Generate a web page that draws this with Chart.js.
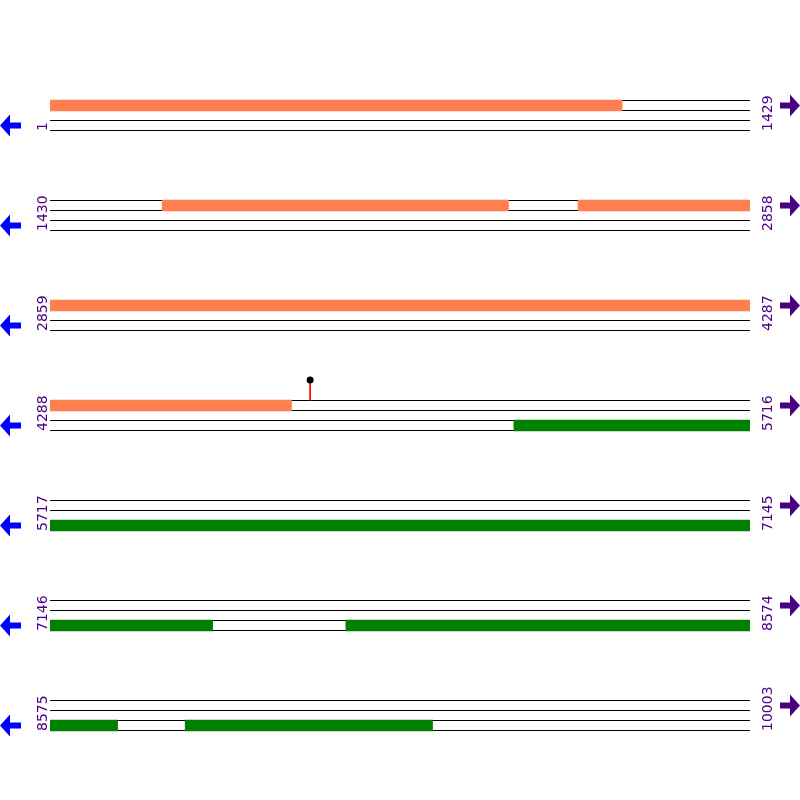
<!DOCTYPE html>
<html>
<head>
<meta charset="utf-8">
<script src="https://cdn.jsdelivr.net/npm/chart.js@4.4.0/dist/chart.umd.min.js"></script>
<style>
  html, body { margin: 0; padding: 0; background: #fff; }
  #wrap { width: 800px; height: 800px; }
</style>
</head>
<body>
<div id="wrap"><canvas id="mapChart" width="800" height="800"></canvas></div>
<script>
// sequence map data (bp)
const rowLength = 1429;
const rowStarts = [1, 1430, 2859, 4288, 5717, 7146, 8575];
const rowEnds = [1429, 2858, 4287, 5716, 7145, 8574, 10003];
const forwardFeatures = [[1, 1168], [1659, 2365], [2508, 4780]];
const reverseFeatures = [[5235, 7477], [7750, 8712], [8851, 9355]];
const mutationSites = [4819];

// layout of each row (canvas pixels, y scale is 0..800)
const rowTop = r => 100 + r * 100;
const trackCenter = (r, t) => rowTop(r) + t * 10 + 5.5;

// split features so they wrap over the rows
function splitFeatures(features, track) {
    const out = [];
    features.forEach(function(f) {
        rowStarts.forEach(function(rs, r) {
            const a = Math.max(f[0], rs);
            const b = Math.min(f[1] + 1, rs + rowLength);
            if (b > a) out.push({ x: [a - rs, b - rs], y: trackCenter(r, track) });
        });
    });
    return out;
}

function rowLines() {
    const pts = [];
    rowStarts.forEach(function(rs, r) {
        for (let k = 0; k < 4; k++) {
            const y = rowTop(r) + k * 10 + 0.5;
            pts.push({ x: 0, y: y }, { x: rowLength, y: y }, { x: null, y: null });
        }
    });
    return pts;
}

function rowOf(pos) {
    let r = 0;
    rowStarts.forEach(function(rs, i) { if (pos >= rs) r = i; });
    return r;
}

const stems = [];
const heads = [];
mutationSites.forEach(function(p) {
    const r = rowOf(p);
    const x = p - rowStarts[r];
    stems.push({ x: x, y: rowTop(r) - 20 }, { x: x, y: rowTop(r) + 0.5 }, { x: null, y: null });
    heads.push({ x: x, y: rowTop(r) - 20 });
});

// row number labels and strand arrows
const decorPlugin = {
    id: 'decor',
    afterDatasetsDraw(chart) {
        const ctx = chart.ctx;
        const yScale = chart.scales.y;
        ctx.save();
        ctx.font = '14px "DejaVu Sans"';
        ctx.textAlign = 'left';
        ctx.textBaseline = 'alphabetic';
        rowStarts.forEach(function(rs, r) {
            const yb = yScale.getPixelForValue(rowTop(r) + 31);
            ctx.fillStyle = '#4B0082';
            [[47, rs], [772, rowEnds[r]]].forEach(function(item) {
                ctx.save();
                ctx.translate(item[0], yb);
                ctx.rotate(-Math.PI / 2);
                ctx.fillText(String(item[1]), 0, 0);
                ctx.restore();
            });

            // reverse strand arrow (left)
            let cy = yScale.getPixelForValue(trackCenter(r, 2));
            ctx.fillStyle = '#0000FF';
            ctx.beginPath();
            ctx.moveTo(0, cy);
            ctx.lineTo(10, cy - 11);
            ctx.lineTo(10, cy - 3);
            ctx.lineTo(21, cy - 3);
            ctx.lineTo(21, cy + 3);
            ctx.lineTo(10, cy + 3);
            ctx.lineTo(10, cy + 11);
            ctx.closePath();
            ctx.fill();

            // forward strand arrow (right)
            cy = yScale.getPixelForValue(trackCenter(r, 0));
            ctx.fillStyle = '#4B0082';
            ctx.beginPath();
            ctx.moveTo(800, cy);
            ctx.lineTo(790, cy - 11);
            ctx.lineTo(790, cy - 3);
            ctx.lineTo(780, cy - 3);
            ctx.lineTo(780, cy + 3);
            ctx.lineTo(790, cy + 3);
            ctx.lineTo(790, cy + 11);
            ctx.closePath();
            ctx.fill();
        });
        ctx.restore();
    }
};

const ctx = document.getElementById('mapChart').getContext('2d');
const mapChart = new Chart(ctx, {
    type: 'bar',
    data: {
        datasets: [
            {
                type: 'line',
                indexAxis: 'x',
                data: rowLines(),
                borderColor: '#000000',
                borderWidth: 1,
                pointRadius: 0,
                spanGaps: false,
                order: 3
            },
            {
                label: 'forward',
                data: splitFeatures(forwardFeatures, 0),
                backgroundColor: '#FF7F50',
                borderWidth: 0,
                barThickness: 11,
                grouped: false,
                order: 2
            },
            {
                label: 'reverse',
                data: splitFeatures(reverseFeatures, 2),
                backgroundColor: '#008000',
                borderWidth: 0,
                barThickness: 11,
                grouped: false,
                order: 2
            },
            {
                type: 'line',
                indexAxis: 'x',
                data: stems,
                borderColor: '#FF0000',
                borderWidth: 1,
                pointRadius: 0,
                spanGaps: false,
                order: 1
            },
            {
                type: 'scatter',
                indexAxis: 'x',
                data: heads,
                backgroundColor: '#000000',
                borderWidth: 0,
                pointRadius: 3.5,
                order: 0
            }
        ]
    },
    options: {
        indexAxis: 'y',
        responsive: false,
        animation: false,
        events: [],
        layout: { autoPadding: false, padding: { left: 50, right: 50, top: 0, bottom: 0 } },
        plugins: {
            legend: { display: false },
            tooltip: { enabled: false }
        },
        scales: {
            x: { type: 'linear', min: 0, max: rowLength, offset: false, display: false },
            y: { type: 'linear', min: 0, max: 800, reverse: true, offset: false, display: false }
        }
    },
    plugins: [decorPlugin]
});
</script>
</body>
</html>
